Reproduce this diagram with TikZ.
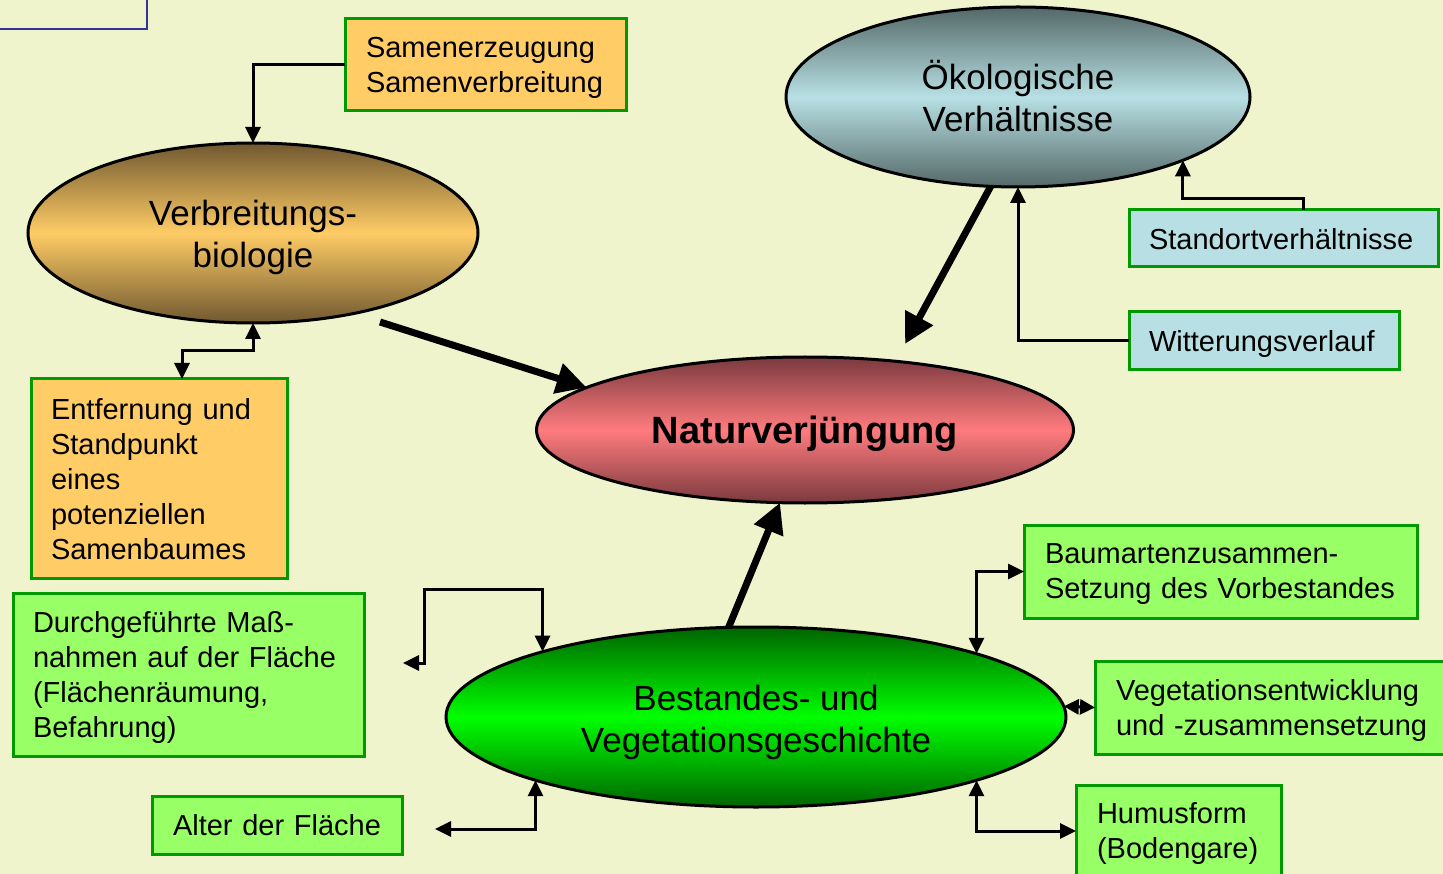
\documentclass[tikz,border=0pt]{standalone}
\usepackage{fontspec}
\setmainfont{Liberation Sans}
\usetikzlibrary{arrows.meta,shapes.geometric}
\definecolor{bg}{RGB}{240,244,204}
\definecolor{orangeF}{RGB}{255,204,102}
\definecolor{greenF}{RGB}{153,255,102}
\definecolor{blueF}{RGB}{184,224,228}
\definecolor{bgreen}{RGB}{0,153,0}
\definecolor{brownD}{RGB}{112,88,48}
\definecolor{tealD}{RGB}{84,104,104}
\definecolor{redD}{RGB}{122,58,62}
\definecolor{redL}{RGB}{255,123,126}
\definecolor{greenD}{RGB}{0,100,0}
\definecolor{greenL}{RGB}{0,255,0}
\definecolor{navy}{RGB}{51,51,153}
\newcommand{\lowtext}[2]{\raisebox{-#1}[\height][\depth]{\begin{tabular}{@{}c@{}}#2\end{tabular}}}
\newcommand{\zerodepth}{\par\kern-\prevdepth}
\tikzset{
  box/.style={draw=bgreen, line width=3pt, rectangle, anchor=north west,
    outer sep=0pt, inner xsep=21pt, inner ysep=0pt, align=left,
    font=\fontsize{29}{35}\selectfont},
  ell/.style={ellipse, draw=black, line width=3pt, inner sep=0pt, outer sep=0pt,
    font=\fontsize{35}{42}\selectfont},
  c1/.style={line width=3pt, -{Triangle[length=16pt,width=15pt]}},
  c2/.style={line width=3pt, {Triangle[length=16pt,width=15pt]}-{Triangle[length=16pt,width=15pt]}},
  c2s/.style={line width=3pt, {Triangle[length=15pt,width=15pt]}-{Triangle[length=15pt,width=15pt]}},
  thickarrow/.style={line width=7pt, -{Triangle[length=30pt,width=30pt]}},
}
\begin{document}
\begin{tikzpicture}[x=1pt,y=-1pt]
\fill[bg] (0,0) rectangle (1443,874);
\useasboundingbox (0,0) rectangle (1443,874);
% top-left frame fragment
\draw[navy, line width=2pt] (0,29) -- (147,29) -- (147,-3);

% ellipses
\node[ell, minimum width=450pt, minimum height=180pt,
  top color=brownD, bottom color=brownD, middle color=orangeF]
  (verb) at (253,233) {\lowtext{5pt}{Verbreitungs-\\biologie}};
\node[ell, minimum width=464pt, minimum height=180pt,
  top color=tealD, bottom color=tealD, middle color=blueF]
  (oeko) at (1018,97) {\lowtext{5pt}{Ökologische\\Verhältnisse}};
\node[ell, minimum width=537pt, minimum height=146pt,
  top color=redD, bottom color=redD, middle color=redL,
  font=\fontsize{38}{44}\selectfont\bfseries]
  (natur) at (805,430) {\lowtext{5pt}{Naturverjüngung}};
\node[ell, minimum width=620pt, minimum height=180pt,
  top color=greenD, bottom color=greenD, middle color=greenL]
  (best) at (756,717) {\lowtext{6pt}{Bestandes- und\\Vegetationsgeschichte}};

% boxes
\node[box, fill=orangeF, text width=239pt, minimum height=92pt] (samen) at (345,19)
  {Samenerzeugung\\Samenverbreitung\zerodepth};
\node[box, fill=orangeF, inner xsep=20pt, text width=216pt, minimum height=199pt] (entf) at (31,379)
  {Entfernung~und\\Standpunkt\\eines\\potenziellen\\Samenbaumes\zerodepth};
\node[box, fill=greenF, inner xsep=20pt, text width=311pt, minimum height=163pt] (durch) at (13,593)
  {Durchgeführte~Maß-\\nahmen~auf~der~Fläche\\(Flächenräumung,\\Befahrung)\zerodepth};
\node[box, fill=greenF, text width=208pt, minimum height=58pt] (alter) at (152,796)
  {Alter~der~Fläche\zerodepth};
\node[box, fill=blueF, inner xsep=20pt, text width=269pt, minimum height=57pt] (stand) at (1129,210)
  {Standortverhältnisse\zerodepth};
\node[box, fill=blueF, inner xsep=20pt, text width=230pt, minimum height=58pt] (witt) at (1129,312)
  {Witterungsverlauf\zerodepth};
\node[box, fill=greenF, text width=351pt, minimum height=93pt] (baum) at (1024,525)
  {Baumartenzusammen-\\Setzung~des~Vorbestandes\zerodepth};
\node[box, fill=greenF, text width=318pt, minimum height=93pt] (vegent) at (1095,661)
  {Vegetationsentwicklung\\und~-zusammensetzung\zerodepth};
\node[box, fill=greenF, text width=163pt, minimum height=92pt] (humus) at (1076,785)
  {Humusform\\(Bodengare)\zerodepth};

% free ends
\coordinate (verbtail) at (380,322);
\coordinate (oekotip) at (905,344);
\coordinate (durchend) at (403,663);
\coordinate (alterend) at (435,829);

% thin connectors
\draw[c1] (samen.west) -| (verb.north);
\draw[c2] (verb.south) -- ++(0,28) -| ([xshift=151pt]entf.north west);
\draw[c1] ([xshift=20pt]stand.north) -- ++(0,-11) -| (oeko.-21.5);
\draw[c1] (witt.west) -| (oeko.south);
\draw[c2] (durchend) -- ++(21,0) -- (424,589) -| (best.163.5);
\draw[c2] (alterend) -| (best.196.5);
\draw[c2] (best.16.5) |- (baum.west);
\draw[c2] (best.-16.5) |- (humus.west);
\draw[c2s] (best.2) -- (vegent.west);

% thick arrows
\draw[thickarrow] (verbtail) -- (natur.169);
\draw[thickarrow] (oeko.253) -- (oekotip);
\draw[thickarrow] (best.107) -- (natur.251);
\end{tikzpicture}
\end{document}
